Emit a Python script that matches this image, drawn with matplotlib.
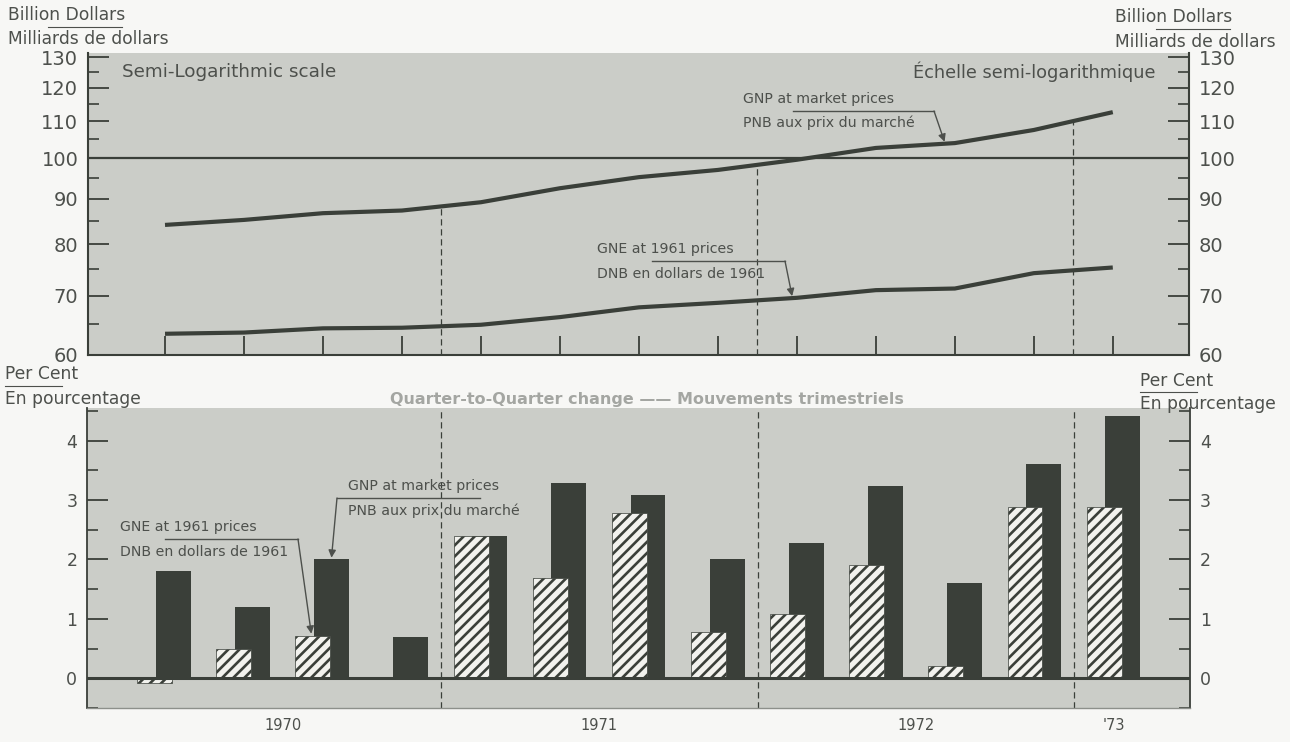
import matplotlib
matplotlib.use("Agg")
import matplotlib.pyplot as plt
from matplotlib.lines import Line2D
from matplotlib.ticker import FixedLocator, NullFormatter
import numpy as np

# data: quarters 1970 Q1 .. 1973 Q1
quarters = np.arange(13)
gnp_level = [84.1, 85.2, 86.7, 87.3, 89.2, 92.5, 95.2, 97.0, 99.6, 102.7, 104.0, 107.6, 112.7]
gne_level = [63.4, 63.6, 64.3, 64.4, 64.9, 66.2, 67.9, 68.7, 69.6, 71.0, 71.3, 74.2, 75.3]
gnp_change = [1.8, 1.2, 2.0, 0.7, 2.4, 3.28, 3.08, 2.0, 2.28, 3.24, 1.6, 3.6, 4.42]
gne_change = [-0.08, 0.5, 0.72, 0.0, 2.4, 1.68, 2.78, 0.78, 1.08, 1.9, 0.2, 2.88, 2.88]
year_labels = ["1970", "1971", "1972", "'73"]
year_pos = [1.5, 5.5, 9.5, 12]
year_breaks = [3.5, 7.5, 11.5]
level_ticks = [60, 70, 80, 90, 100, 110, 120, 130]
level_minor = [65, 75, 85, 95, 105, 115, 125]
pct_ticks = [0, 1, 2, 3, 4]
pct_minor = [-0.5, 0.5, 1.5, 2.5, 3.5, 4.5]

W, H = 1290, 742
dark = "#3a3f39"
panel = "#cbcdc8"
txt = "#4d504c"
bg = "#f7f7f5"

plt.rcParams["font.family"] = "DejaVu Sans"
plt.rcParams["hatch.linewidth"] = 1.9


def fx(px):
    return px / W


def fy(py):
    return 1 - py / H


def hline(x0, x1, y, lw=1.0, color=txt):
    fig.add_artist(Line2D([fx(x0), fx(x1)], [fy(y), fy(y)], transform=fig.transFigure, color=color, lw=lw))


def note(x, y, s, size=10.2):
    fig.text(fx(x), fy(y), s, fontsize=size, color=txt, va="center")


fig = plt.figure(figsize=(W / 100, H / 100), dpi=100)
fig.patch.set_facecolor(bg)

xlim = (-0.975, 12.965)
arrow = dict(arrowstyle="-|>", color=txt, lw=1.0, shrinkA=0, shrinkB=0, mutation_scale=11)

# ---- top panel: levels, semi-log
ax1 = fig.add_axes([fx(88), fy(355), fx(1189) - fx(88), fy(53) - fy(355)])
ax1.set_facecolor(panel)
ax1.set_yscale("log")
ax1.set_ylim(60, 131.4)
ax1.set_xlim(*xlim)
ax1.yaxis.set_major_locator(FixedLocator(level_ticks))
ax1.set_yticklabels([str(v) for v in level_ticks])
ax1.yaxis.set_minor_locator(FixedLocator(level_minor))
ax1.yaxis.set_minor_formatter(NullFormatter())
ax1.set_xticks(quarters)
ax1.tick_params(axis="x", direction="in", length=14, width=1.3, color=dark, labelbottom=False)
ax1.tick_params(axis="y", which="major", direction="in", length=15, width=1.3, color=dark,
                left=True, right=True, labelleft=True, labelright=True,
                labelsize=14, labelcolor=txt, pad=7)
ax1.tick_params(axis="y", which="minor", direction="in", length=8, width=1.2, color=dark,
                left=True, right=True)
ax1.spines["top"].set_visible(False)
for s in ("left", "right", "bottom"):
    ax1.spines[s].set_color(dark)
    ax1.spines[s].set_linewidth(1.5)

ax1.axhline(100, color=dark, lw=1.6, zorder=2)
ax1.plot(quarters, gnp_level, color=dark, lw=3.0, solid_capstyle="butt", zorder=3)
ax1.plot(quarters, gne_level, color=dark, lw=3.0, solid_capstyle="butt", zorder=3)
ax1.vlines(year_breaks, 60, np.interp(year_breaks, quarters, gnp_level),
           colors=dark, linestyles=(0, (5, 3)), lw=0.9, zorder=1)

ax1.text(0.031, 0.937, "Semi-Logarithmic scale", transform=ax1.transAxes,
         ha="left", va="center", fontsize=13.2, color=txt)
ax1.text(0.970, 0.937, "Échelle semi-logarithmique", transform=ax1.transAxes,
         ha="right", va="center", fontsize=12.8, color=txt)

# top annotations
note(743, 99, "GNP at market prices")
note(743, 123, "PNB aux prix du marché")
hline(793, 934, 111)
tip = 9.87
ax1.annotate("", xy=(tip, np.interp(tip, quarters, gnp_level) * 1.005), xycoords="data",
             xytext=(fx(934), fy(111)), textcoords="figure fraction", arrowprops=arrow)

note(597, 249, "GNE at 1961 prices")
note(597, 274, "DNB en dollars de 1961")
hline(652, 785, 261)
tip = 7.94
ax1.annotate("", xy=(tip, np.interp(tip, quarters, gne_level) * 1.005), xycoords="data",
             xytext=(fx(785), fy(261)), textcoords="figure fraction", arrowprops=arrow)

# ---- bottom panel: quarter-to-quarter change
ax2 = fig.add_axes([fx(87), fy(708), fx(1190) - fx(87), fy(408) - fy(708)])
ax2.set_facecolor(panel)
ax2.set_xlim(*xlim)
ax2.set_ylim(-0.5, 4.55)
ax2.set_yticks(pct_ticks)
ax2.set_yticklabels([str(v) for v in pct_ticks])
ax2.yaxis.set_minor_locator(FixedLocator(pct_minor))
ax2.set_xticks(year_pos)
ax2.set_xticklabels(year_labels)
ax2.tick_params(axis="x", length=0, labelsize=10.5, labelcolor=txt, pad=7)
ax2.tick_params(axis="y", which="major", direction="in", length=15, width=1.3, color=dark,
                left=True, right=True, labelleft=True, labelright=True,
                labelsize=12.5, labelcolor=txt, pad=7)
ax2.tick_params(axis="y", which="minor", direction="in", length=8, width=1.2, color=dark,
                left=True, right=True)
ax2.spines["top"].set_visible(False)
for s in ("left", "right"):
    ax2.spines[s].set_color(dark)
    ax2.spines[s].set_linewidth(1.3)
ax2.spines["bottom"].set_color("#8d908b")
ax2.spines["bottom"].set_linewidth(1.0)

ax2.bar(quarters + 0.115, gnp_change, width=0.44, color=dark, zorder=2)
ax2.bar(quarters - 0.12, gne_change, width=0.44, facecolor="#f2f2ee", edgecolor=dark,
        hatch="///", linewidth=0.5, zorder=3)
ax2.axhline(0, color=dark, lw=2.2, zorder=4)
for xb in year_breaks:
    ax2.axvline(xb, color=dark, linestyle=(0, (5, 3)), lw=0.9, zorder=1)

fig.text(fx(647), fy(400), "Quarter-to-Quarter change —— Mouvements trimestriels",
         fontsize=11.5, color="#a4a6a2", ha="center", va="center", fontweight="bold")

# bottom annotations
note(348, 486, "GNP at market prices")
note(348, 511, "PNB aux prix du marché")
hline(337, 480, 498)
ax2.annotate("", xy=(2 + 0.115, gnp_change[2] + 0.03), xycoords="data",
             xytext=(fx(337), fy(498)), textcoords="figure fraction", arrowprops=arrow)

note(120, 527, "GNE at 1961 prices")
note(120, 552, "DNB en dollars de 1961")
hline(165, 298, 539)
ax2.annotate("", xy=(2 - 0.14, gne_change[2] + 0.03), xycoords="data",
             xytext=(fx(298), fy(539)), textcoords="figure fraction", arrowprops=arrow)

# unit labels
note(8, 15, "Billion Dollars", 12.3)
hline(48, 122, 27, lw=0.8)
note(8, 39, "Milliards de dollars", 12.3)
note(1115, 17, "Billion Dollars", 12.3)
hline(1156, 1230, 29, lw=0.8)
note(1115, 42, "Milliards de dollars", 12.3)

note(5, 374, "Per Cent", 12.3)
hline(5, 62, 386, lw=0.8)
note(5, 399, "En pourcentage", 12.3)
note(1140, 381, "Per Cent", 12.3)
hline(1140, 1197, 392, lw=0.8)
note(1140, 404, "En pourcentage", 12.3)

fig.savefig("out.png", dpi=100, facecolor=bg)
